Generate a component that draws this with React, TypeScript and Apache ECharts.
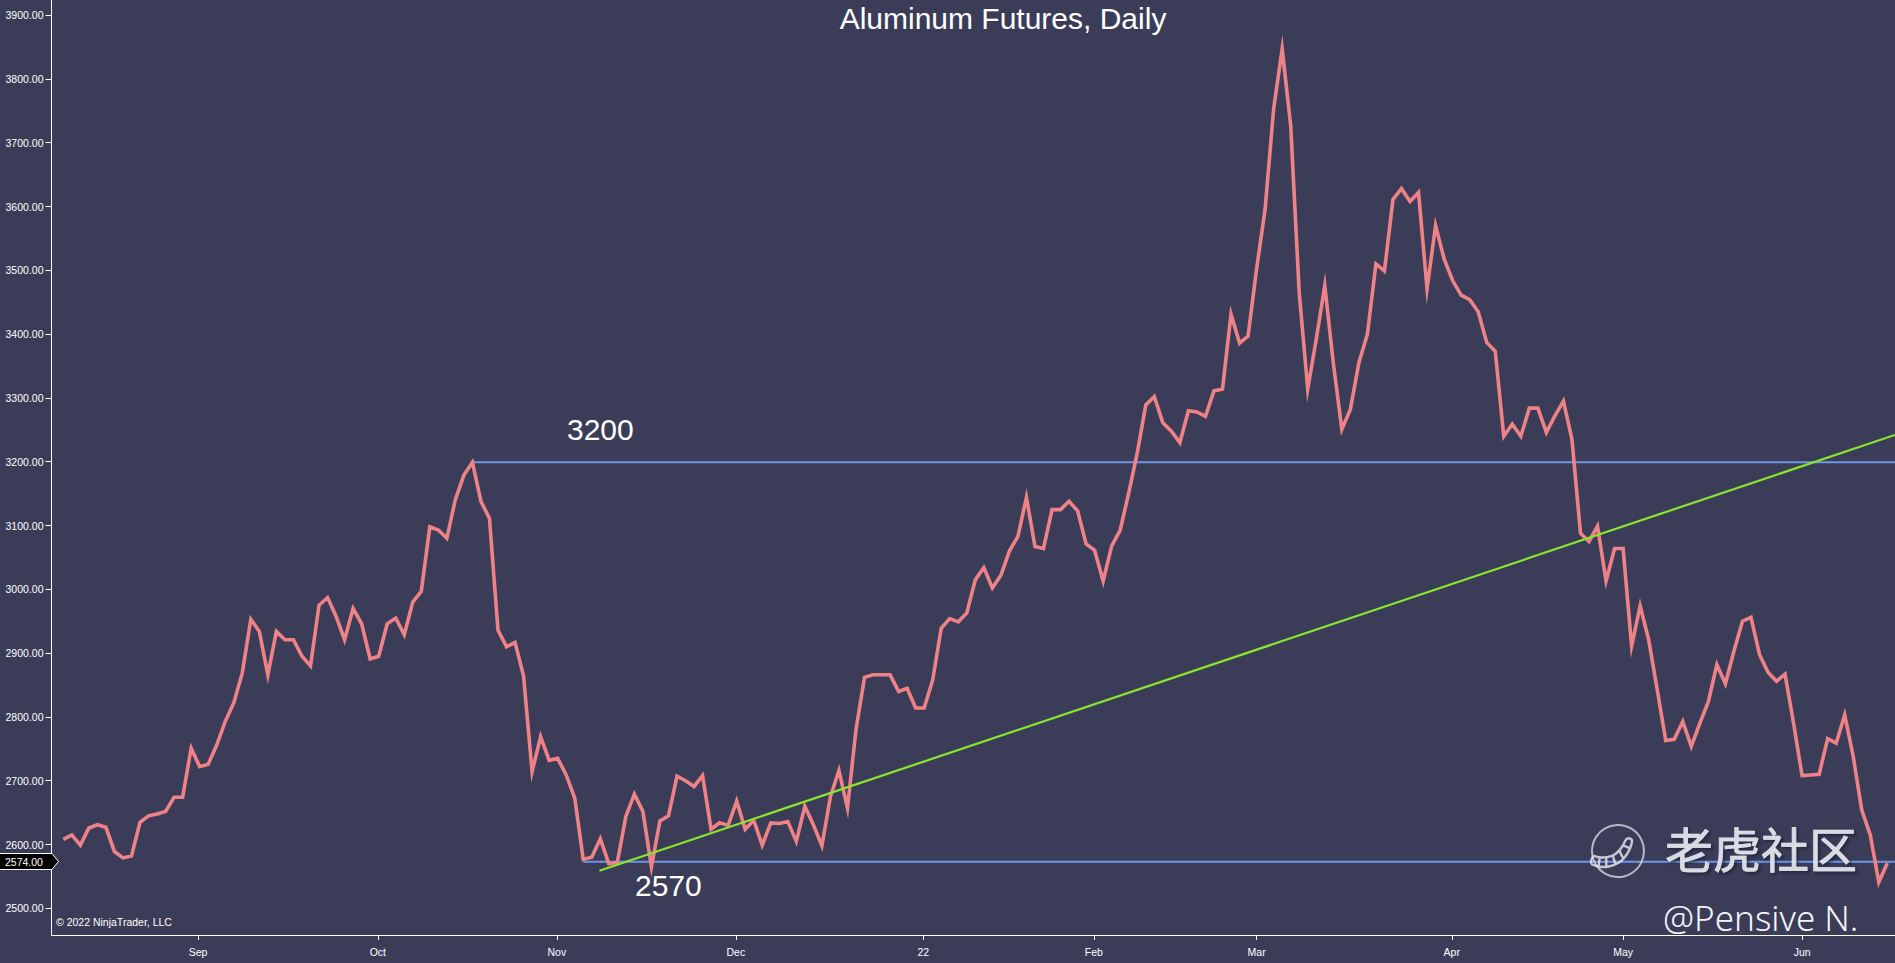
import React, { useEffect, useRef } from "react";
import * as echarts from "echarts";

const prices = [
  2608, 2615, 2599, 2626, 2631, 2627, 2589, 2579, 2582, 2635,
  2645, 2648, 2652, 2674, 2674, 2751, 2722, 2726, 2756, 2793,
  2822, 2869, 2953, 2934, 2866, 2934, 2921, 2921, 2895, 2880,
  2975, 2987, 2958, 2921, 2970, 2946, 2891, 2895, 2946, 2955,
  2929, 2980, 2997, 3098, 3093, 3080, 3141, 3179, 3199, 3138,
  3111, 2936, 2910, 2917, 2864, 2714, 2769, 2732, 2735, 2709,
  2673, 2577, 2580, 2609, 2570, 2572, 2644, 2679, 2652, 2565,
  2637, 2645, 2707, 2700, 2691, 2708, 2624, 2634, 2630, 2668,
  2624, 2638, 2599, 2634, 2633, 2636, 2605, 2660, 2631, 2598,
  2675, 2716, 2657, 2780, 2862, 2866, 2866, 2866, 2840, 2845,
  2814, 2814, 2858, 2939, 2954, 2949, 2963, 3015, 3034, 3002,
  3022, 3060, 3083, 3144, 3067, 3064, 3125, 3125, 3138, 3123,
  3071, 3061, 3013, 3068, 3093, 3151, 3214, 3289, 3302, 3261,
  3248, 3230, 3280, 3278, 3271, 3311, 3314, 3431, 3386, 3397,
  3502, 3596, 3753, 3847, 3727, 3465, 3314, 3392, 3476, 3355,
  3251, 3282, 3355, 3400, 3510, 3499, 3611, 3628, 3608, 3622,
  3471, 3570, 3518, 3484, 3461, 3454, 3435, 3387, 3373, 3240,
  3259, 3240, 3284, 3284, 3246, 3272, 3295, 3235, 3088, 3075,
  3099, 3013, 3064, 3064, 2911, 2974, 2921, 2843, 2763, 2765,
  2793, 2754, 2790, 2824, 2882, 2852, 2903, 2950, 2956, 2898,
  2870, 2856, 2867, 2790, 2708, 2709, 2710, 2766, 2759, 2803,
  2738, 2654, 2615, 2541, 2571,
];
const monthLabels = ["Sep", "Oct", "Nov", "Dec", "22", "Feb", "Mar", "Apr", "May", "Jun"];
const monthIndex = [15.8, 36.9, 57.9, 78.9, 100.9, 120.9, 140, 162.9, 183, 204];
const priceTicks = [2500, 2600, 2700, 2800, 2900, 3000, 3100, 3200, 3300, 3400, 3500, 3600, 3700, 3800, 3900];
const resistance = [[48, 3199], [215, 3199]];
const support = [[61, 2573], [215, 2573]];
const trend = [[62.9, 2559], [214.9, 3242]];

const BG = "#3b3d58";
const FONT = "Liberation Sans, Arial, sans-serif";

echarts.graphic.registerShape(
  "tigerLogo",
  echarts.graphic.extendPath(
    "M0 31 C10 36 26 34 34 24 C38 19 41 13 42 8 C43 3 37 2 35 6 C32 13 28 19 21 22 C15 24 7 24 2 22 C-1 24 -2 29 0 31 Z M8 24 L7 33 M15 24 L15 34 M22 22 L25 32 M29 17 L33 25 M33 11 L40 14",
    {}
  ) as any
);

export default function App() {
  const ref = useRef<HTMLDivElement>(null);
  useEffect(() => {
    const chart = echarts.init(ref.current!, null, { renderer: "svg" });
    chart.setOption({
      animation: false,
      backgroundColor: BG,
      grid: { left: 51.5, right: 0, top: 0, bottom: 28 },
      title: {
        text: "Aluminum Futures, Daily",
        left: 998,
        textAlign: "center",
        top: -2,
        textStyle: { color: "#ffffff", fontSize: 30, fontWeight: "normal", fontFamily: FONT },
      },
      xAxis: {
        type: "value",
        min: -1.385,
        max: 214.9,
        splitLine: { show: false },
        axisLine: { show: true, onZero: false, lineStyle: { color: "#ffffff", width: 1 } },
        axisTick: { show: true, length: 5, customValues: monthIndex, lineStyle: { color: "#ffffff" } },
        axisLabel: {
          customValues: monthIndex,
          margin: 11,
          color: "#ffffff",
          fontSize: 10.5,
          fontFamily: FONT,
          formatter: (v: number) => monthLabels[monthIndex.indexOf(v)] ?? "",
        },
      },
      yAxis: {
        type: "value",
        min: 2458.2,
        max: 3923.7,
        splitLine: { show: false },
        axisLine: { show: true, onZero: false, lineStyle: { color: "#ffffff", width: 1 } },
        axisTick: { show: true, length: 6, customValues: priceTicks, lineStyle: { color: "#ffffff" } },
        axisLabel: {
          customValues: priceTicks,
          margin: 8,
          padding: [2, 0, 0, 0],
          color: "#ffffff",
          fontSize: 10.5,
          fontFamily: FONT,
          formatter: (v: number) => v.toFixed(2),
        },
      },
      series: [
        {
          name: "Resistance",
          type: "line",
          data: resistance,
          symbol: "none",
          lineStyle: { color: "#6f96e6", width: 2 },
          z: 3,
        },
        {
          name: "Support",
          type: "line",
          data: support,
          symbol: "none",
          lineStyle: { color: "#6f96e6", width: 2 },
          z: 3,
        },
        {
          name: "Aluminum",
          type: "line",
          data: prices.map((p, i) => [i, p]),
          symbol: "none",
          lineStyle: { color: "#ee8286", width: 3.6, join: "miter", miterLimit: 30 },
          z: 4,
        },
        {
          name: "Trend",
          type: "line",
          data: trend,
          symbol: "none",
          lineStyle: { color: "#8ae62c", width: 2.2 },
          z: 5,
        },
      ],
      graphic: [
        {
          type: "text",
          x: 567,
          y: 429,
          z: 10,
          style: { text: "3200", fill: "#ffffff", fontSize: 30, fontFamily: FONT, textVerticalAlign: "middle" },
        },
        {
          type: "text",
          x: 635,
          y: 885,
          z: 10,
          style: { text: "2570", fill: "#ffffff", fontSize: 30, fontFamily: FONT, textVerticalAlign: "middle" },
        },
        {
          type: "text",
          x: 56,
          y: 922,
          z: 10,
          style: { text: "© 2022 NinjaTrader, LLC", fill: "#ffffff", fontSize: 10.5, fontFamily: FONT, textVerticalAlign: "middle" },
        },
        {
          type: "polygon",
          z: 20,
          shape: { points: [[-2, 853.5], [52, 853.5], [58.5, 861.5], [52, 869.5], [-2, 869.5]] },
          style: { fill: "#000000", stroke: "#ffffff", lineWidth: 1 },
        },
        {
          type: "text",
          x: 5,
          y: 862,
          z: 21,
          style: { text: "2574.00", fill: "#ffffff", fontSize: 10.5, fontFamily: FONT, textVerticalAlign: "middle" },
        },
        {
          type: "circle",
          z: 30,
          shape: { cx: 1618, cy: 851, r: 26 },
          style: { fill: "transparent", stroke: "rgba(225,226,235,0.75)", lineWidth: 2 },
        },
        {
          type: "tigerLogo",
          x: 1592,
          y: 835,
          scaleX: 0.95,
          scaleY: 0.95,
          z: 30,
          style: { fill: "transparent", stroke: "rgba(225,226,235,0.85)", lineWidth: 2.5 },
        },
        {
          type: "text",
          x: 1665,
          y: 847,
          z: 30,
          style: {
            text: "老虎社区",
            fill: "rgba(228,229,238,0.92)",
            stroke: "rgba(228,229,238,0.92)",
            lineWidth: 0.7,
            fontSize: 48,
            fontFamily: "Noto Sans CJK SC",
            textVerticalAlign: "middle",
            textShadowColor: "rgba(25,27,45,0.7)",
            textShadowBlur: 3,
            textShadowOffsetX: 2,
            textShadowOffsetY: 2,
          },
        },
        {
          type: "text",
          x: 1663,
          y: 917,
          z: 30,
          style: {
            text: "@Pensive N.",
            fill: "#f4f4f8",
            fontSize: 35,
            fontWeight: 300,
            fontFamily: "Noto Sans, Noto Sans CJK SC",
            textVerticalAlign: "middle",
          },
        },
      ],
    });
    return () => chart.dispose();
  }, []);
  return <div ref={ref} style={{ position: "fixed", left: 0, top: 0, width: 1895, height: 963 }} />;
}
